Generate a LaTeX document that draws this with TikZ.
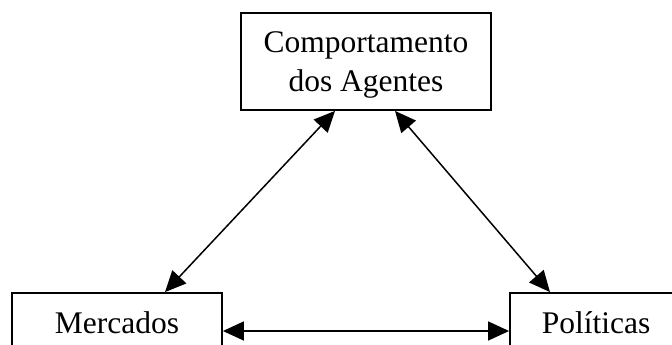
\documentclass[tikz,border=0pt]{standalone}
\usepackage{fontspec}
\setmainfont{Liberation Serif}
\usetikzlibrary{arrows.meta}
\tikzset{
  caixa/.style={draw, line width=1.8pt, inner sep=0pt, align=center,
    font=\fontsize{31.5}{36.7}\selectfont},
  seta/.style={line width=1.5pt, {Triangle[length=21pt,width=19pt]}-{Triangle[length=21pt,width=19pt]}}
}
\begin{document}
\begin{tikzpicture}[x=1pt,y=-1pt]
      \useasboundingbox (0,0) rectangle (672,345);
      \clip (0,0) rectangle (672,345);
      \node[caixa, minimum width=250pt, minimum height=97pt] (agentes) at (366,61.5)
        {\rule{0pt}{28pt}Comportamento\\[3pt]dos Agentes};
      \node[caixa, minimum width=210pt, minimum height=58pt, text height=22pt, text depth=0pt] (mercados) at (117,322)
        {Mercados};
      \node[caixa, minimum width=172pt, minimum height=58pt, text height=22pt, text depth=0pt] (politicas) at (596,322)
        {Políticas};
      \draw[seta] ([xshift=-31pt]agentes.south) -- ([xshift=48pt]mercados.north);
      \draw[seta] ([xshift=29pt]agentes.south) -- ([xshift=-46pt]politicas.north);
      \draw[seta] ([yshift=-9pt]mercados.east) -- ([yshift=-9pt]politicas.west);
    \end{tikzpicture}
\end{document}
